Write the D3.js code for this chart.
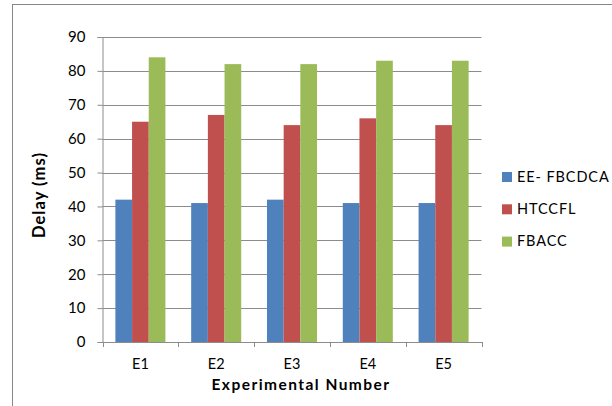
<!DOCTYPE html>
<html>
<head>
<meta charset="utf-8">
<script src="https://cdn.jsdelivr.net/npm/d3@7"></script>
<style>
  html, body { margin: 0; padding: 0; background: #fff; }
  svg { display: block; }
  text { font-family: Lato, "Open Sans", "Liberation Sans", sans-serif; fill: #000; }
</style>
</head>
<body>
<svg id="chart" width="612" height="406"></svg>
<script>
// Delay per experiment for each scheme
const categories = ["E1", "E2", "E3", "E4", "E5"];
const seriesNames = ["EE- FBCDCA", "HTCCFL", "FBACC"];
const eeFbcdca = [42, 41, 42, 41, 41];
const htccfl = [65, 67, 64, 66, 64];
const fbacc = [84, 82, 82, 83, 83];
const yTicks = [0, 10, 20, 30, 40, 50, 60, 70, 80, 90];
const colors = ["#4F81BD", "#C0504D", "#9BBB59"];

const seriesValues = [eeFbcdca, htccfl, fbacc];
const rows = categories.map((c, i) => ({
  cat: c,
  vals: seriesNames.map((s, j) => ({ key: s, value: seriesValues[j][i] }))
}));

const svg = d3.select("#chart");

// widen a text to a target width through letter spacing, keeping its font size
function spreadTo(sel, size, target) {
  sel.attr("font-size", size).attr("letter-spacing", 0);
  const node = sel.node();
  const w = node.getComputedTextLength();
  const n = node.textContent.length;
  sel.attr("letter-spacing", Math.max(0, (target - w) / n));
}

// outer chart frame
svg.append("rect")
  .attr("x", 12.5).attr("y", 4.5)
  .attr("width", 640).attr("height", 440)
  .attr("fill", "none").attr("stroke", "#878787").attr("stroke-width", 1);

const plot = { left: 102.5, right: 481.5, top: 37, bottom: 342 };

const x = d3.scaleBand().domain(categories).range([plot.left, plot.right]).paddingInner(0).paddingOuter(0);
const y = d3.scaleLinear().domain([0, 90]).range([plot.bottom, plot.top]);
const groupW = x.bandwidth() * 0.66;
const xInner = d3.scaleBand().domain(seriesNames).range([0, groupW]);

// gridlines
svg.append("g")
  .selectAll("line")
  .data(yTicks.filter(t => t > 0))
  .join("line")
  .attr("x1", plot.left).attr("x2", plot.right)
  .attr("y1", d => Math.round(y(d)) + 0.5).attr("y2", d => Math.round(y(d)) + 0.5)
  .attr("stroke", "#8c8c8c").attr("stroke-width", 1);

// bars
const groups = svg.append("g")
  .selectAll("g")
  .data(rows)
  .join("g")
  .attr("transform", d => `translate(${x(d.cat) + (x.bandwidth() - groupW) / 2},0)`);

groups.selectAll("rect")
  .data(d => d.vals)
  .join("rect")
  .attr("x", d => xInner(d.key))
  .attr("y", d => y(d.value))
  .attr("width", xInner.bandwidth())
  .attr("height", d => y(0) - y(d.value))
  .attr("fill", (d, i) => colors[i]);

// y axis
const yAxis = svg.append("g")
  .attr("transform", `translate(${plot.left},0)`)
  .call(d3.axisLeft(y).tickValues(yTicks).tickSize(5).tickPadding(12));
yAxis.select(".domain").attr("stroke", "#8c8c8c");
yAxis.selectAll(".tick line").attr("stroke", "#8c8c8c");
yAxis.selectAll(".tick text").attr("font-size", 15).attr("font-family", "Lato, sans-serif");

// x axis
const xAxis = svg.append("g")
  .attr("transform", `translate(0,${plot.bottom})`)
  .call(d3.axisBottom(x).tickSize(0).tickPadding(17));
xAxis.select(".domain").attr("stroke", "#8c8c8c");
xAxis.selectAll(".tick text").attr("font-size", 14.5).attr("font-family", "Lato, sans-serif");
// category boundary ticks
xAxis.append("g")
  .selectAll("line")
  .data(categories.concat(["end"]))
  .join("line")
  .attr("x1", (d, i) => Math.round(plot.left + i * x.bandwidth()) + 0.5)
  .attr("x2", (d, i) => Math.round(plot.left + i * x.bandwidth()) + 0.5)
  .attr("y1", 0).attr("y2", 5)
  .attr("stroke", "#8c8c8c");

// axis titles
const yTitle = svg.append("text")
  .attr("transform", `translate(45,195) rotate(-90)`)
  .attr("text-anchor", "middle")
  .attr("font-weight", "bold")
  .text("Delay (ms)");
spreadTo(yTitle, 16.5, 86);

const xTitle = svg.append("text")
  .attr("x", 301).attr("y", 389.5)
  .attr("text-anchor", "middle")
  .attr("font-weight", "bold")
  .text("Experimental Number");
spreadTo(xTitle, 15.5, 179);

// legend
const legend = svg.append("g")
  .selectAll("g")
  .data(seriesNames)
  .join("g")
  .attr("transform", (d, i) => `translate(502,${172 + i * 32.3})`);
legend.append("rect")
  .attr("width", 10).attr("height", 10)
  .attr("fill", (d, i) => colors[i]);
legend.append("text")
  .attr("x", 15).attr("y", 9.5)
  .attr("font-size", 14.5)
  .attr("letter-spacing", 0.9)
  .text(d => d);
</script>
</body>
</html>
